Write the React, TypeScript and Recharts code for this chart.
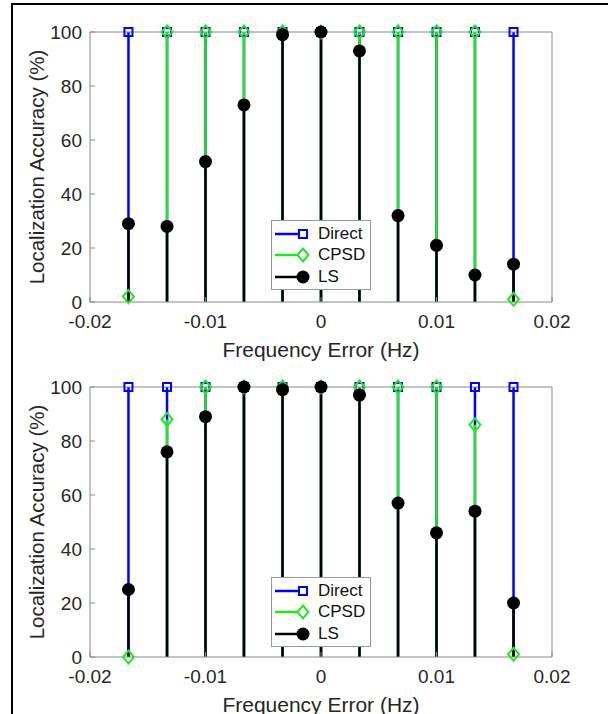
import React from "react";
import { ComposedChart, Scatter, ErrorBar, XAxis, YAxis, Legend } from "recharts";

// frequency error of each trial (Hz)
const freqError = [-0.01667, -0.01333, -0.01, -0.00667, -0.00333, 0, 0.00333, 0.00667, 0.01, 0.01333, 0.01667];
const xTicks = [-0.02, -0.01, 0, 0.01, 0.02];
const yTicks = [0, 20, 40, 60, 80, 100];
const seriesNames = ["Direct", "CPSD", "LS"];

// upper panel
const directTop = [100, 100, 100, 100, 100, 100, 100, 100, 100, 100, 100];
const cpsdTop = [2, 100, 100, 100, 100, 100, 100, 100, 100, 100, 1];
const lsTop = [29, 28, 52, 73, 99, 100, 93, 32, 21, 10, 14];

// lower panel
const directBottom = [100, 100, 100, 100, 100, 100, 100, 100, 100, 100, 100];
const cpsdBottom = [0, 88, 100, 100, 100, 100, 100, 100, 100, 86, 1];
const lsBottom = [25, 76, 89, 100, 99, 100, 97, 57, 46, 54, 20];

const FONT = '"Liberation Sans", Arial, sans-serif';
const AXIS = "#8a8a8a";
const TEXT = "#262626";
const BLUE = "#0000ff";
const GREEN = "#22e622";
const BLACK = "#000000";

const rows = (vals: number[]) => freqError.map((freq, i) => ({ freq, acc: vals[i] }));

// stem goes from 0 up to the value
const stemKey = (p: any) => [(p.payload ?? p).acc, 0];

const squareShape = (p: any) => (
  <rect x={p.cx - 4} y={p.cy - 4} width={8} height={8} fill="none" stroke={BLUE} strokeWidth={2} />
);
const diamondShape = (p: any) => (
  <polygon
    points={`${p.cx},${p.cy - 6.5} ${p.cx + 5.5},${p.cy} ${p.cx},${p.cy + 6.5} ${p.cx - 5.5},${p.cy}`}
    fill="none"
    stroke={GREEN}
    strokeWidth={2}
  />
);
const circleShape = (p: any) => <circle cx={p.cx} cy={p.cy} r={6.5} fill={BLACK} />;

function LegendIcon({ type, color }: { type: string; color: string }) {
  return (
    <svg width={46} height={20} style={{ display: "block" }}>
      <line x1={3} y1={10} x2={31} y2={10} stroke={color} strokeWidth={2.5} />
      {type === "square" && <rect x={27} y={6} width={8} height={8} fill="#fff" stroke={color} strokeWidth={2} />}
      {type === "diamond" && <polygon points="31,3.5 36.5,10 31,16.5 25.5,10" fill="#fff" stroke={color} strokeWidth={2} />}
      {type === "circle" && <circle cx={31} cy={10} r={6.5} fill={color} />}
    </svg>
  );
}

function StemLegend({ payload }: any) {
  const items = [...(payload || [])].sort(
    (a: any, b: any) => seriesNames.indexOf(a.value) - seriesNames.indexOf(b.value)
  );
  return (
    <div
      style={{
        width: 100,
        height: 70,
        boxSizing: "border-box",
        background: "#fff",
        border: "1px solid #9a9a9a",
        paddingTop: 2,
        fontFamily: FONT,
        fontSize: 17,
        color: "#111",
      }}
    >
      {items.map((entry: any) => (
        <div key={entry.value} style={{ display: "flex", alignItems: "center", height: 21.5 }}>
          <LegendIcon type={entry.type} color={entry.color} />
          <span>{entry.value}</span>
        </div>
      ))}
    </div>
  );
}

function StemPanel({ direct, cpsd, ls, legendTop }: { direct: number[]; cpsd: number[]; ls: number[]; legendTop: number }) {
  return (
    <ComposedChart width={608} height={362} margin={{ top: 31, right: 55, bottom: 20, left: 0 }}>
      <XAxis
        dataKey="freq"
        type="number"
        domain={[-0.02, 0.02]}
        ticks={xTicks}
        height={40}
        stroke={AXIS}
        tickSize={-5}
        tickMargin={18}
        tick={{ fill: TEXT, fontSize: 19 }}
        label={{ value: "Frequency Error (Hz)", position: "bottom", offset: 0, style: { fill: TEXT, fontSize: 21 } }}
      />
      <XAxis
        xAxisId="top"
        orientation="top"
        type="number"
        domain={[-0.02, 0.02]}
        allowDataOverflow
        ticks={xTicks}
        height={1}
        stroke={AXIS}
        tickSize={-5}
        tick={false}
      />
      <YAxis
        dataKey="acc"
        type="number"
        domain={[0, 100]}
        ticks={yTicks}
        width={90}
        stroke={AXIS}
        tickSize={-5}
        tickMargin={13}
        tick={{ fill: TEXT, fontSize: 19 }}
        label={{
          value: "Localization Accuracy (%)",
          angle: -90,
          position: "insideLeft",
          offset: 37,
          style: { textAnchor: "middle", fill: TEXT, fontSize: 20.5 },
        }}
      />
      <YAxis
        yAxisId="right"
        orientation="right"
        type="number"
        domain={[0, 100]}
        allowDataOverflow
        ticks={yTicks}
        width={1}
        stroke={AXIS}
        tickSize={-5}
        tick={false}
      />
      <Scatter name="Direct" data={rows(direct)} dataKey="acc" fill={BLUE} legendType="square" shape={squareShape} isAnimationActive={false}>
        <ErrorBar dataKey={stemKey} direction="y" width={0} stroke={BLUE} strokeWidth={2.5} isAnimationActive={false} />
      </Scatter>
      <Scatter name="CPSD" data={rows(cpsd)} dataKey="acc" fill={GREEN} legendType="diamond" shape={diamondShape} isAnimationActive={false}>
        <ErrorBar dataKey={stemKey} direction="y" width={0} stroke={GREEN} strokeWidth={2.5} isAnimationActive={false} />
      </Scatter>
      <Scatter name="LS" data={rows(ls)} dataKey="acc" fill={BLACK} legendType="circle" shape={circleShape} isAnimationActive={false}>
        <ErrorBar dataKey={stemKey} direction="y" width={0} stroke={BLACK} strokeWidth={2.5} isAnimationActive={false} />
      </Scatter>
      <Legend
        layout="horizontal"
        verticalAlign="middle"
        align="center"
        content={<StemLegend />}
        wrapperStyle={{ left: 271, top: legendTop, width: 100, height: 70 }}
      />
    </ComposedChart>
  );
}

export default function App() {
  return (
    <div
      style={{
        position: "fixed",
        left: 0,
        top: 0,
        width: 608,
        height: 714,
        overflow: "hidden",
        background: "#fff",
        fontFamily: FONT,
      }}
    >
      <div style={{ position: "absolute", left: 0, top: 0 }}>
        <StemPanel direct={directTop} cpsd={cpsdTop} ls={lsTop} legendTop={220} />
      </div>
      <div style={{ position: "absolute", left: 0, top: 355 }}>
        <StemPanel direct={directBottom} cpsd={cpsdBottom} ls={lsBottom} legendTop={222} />
      </div>
      {/* figure frame */}
      <div style={{ position: "absolute", left: 11, top: 3, width: 2, height: 711, background: "#000", zIndex: 5 }} />
      <div style={{ position: "absolute", left: 11, top: 3, width: 597, height: 2, background: "#000", zIndex: 5 }} />
    </div>
  );
}
